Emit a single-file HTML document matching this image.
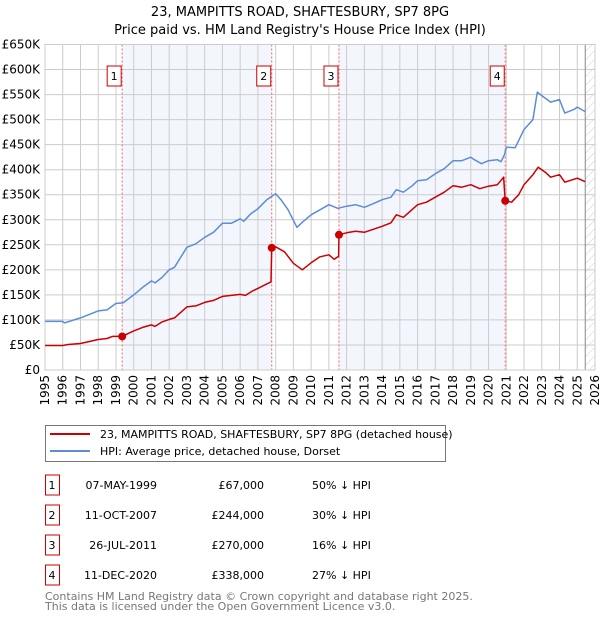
<!DOCTYPE html>
<html><head><meta charset="utf-8"><style>
body{margin:0;background:#fff;font-family:"Liberation Sans","DejaVu Sans",sans-serif;}
svg text{font-family:"DejaVu Sans","Liberation Sans",sans-serif;}
</style></head><body>
<svg id="c" width="600" height="620" xmlns="http://www.w3.org/2000/svg">
<defs><pattern id="hatch" width="6" height="6" patternUnits="userSpaceOnUse" patternTransform="rotate(45)"><line x1="0" y1="0" x2="0" y2="6" stroke="#ccc" stroke-width="1"/></pattern></defs>
<text x="300" y="16" text-anchor="middle" font-size="13">23, MAMPITTS ROAD, SHAFTESBURY, SP7 8PG</text>
<text x="300" y="34" text-anchor="middle" font-size="13">Price paid vs. HM Land Registry's House Price Index (HPI)</text>
<g id="plot"></g>
<g>
<rect x="45.5" y="425.5" width="400" height="36" fill="#fff" stroke="#777"/>
<line x1="50" y1="434" x2="90" y2="434" stroke="#cc0000" stroke-width="2"/>
<text x="100" y="438" font-size="11">23, MAMPITTS ROAD, SHAFTESBURY, SP7 8PG (detached house)</text>
<line x1="50" y1="451" x2="90" y2="451" stroke="#5b8ed6" stroke-width="2"/>
<text x="100" y="455" font-size="11">HPI: Average price, detached house, Dorset</text>
</g>
<g id="table" font-size="11"></g>
<text x="45" y="600" font-size="11" fill="#777">Contains HM Land Registry data © Crown copyright and database right 2025.</text>
<text x="45" y="610" font-size="11" fill="#777">This data is licensed under the Open Government Licence v3.0.</text>
</svg>
<script>
const hpiYears=[1995,1996,1996.1,1997,1998,1998.5,1999,1999.4,2000,2000.5,2001,2001.2,2001.6,2002,2002.3,2003,2003.5,2004,2004.5,2005,2005.5,2006,2006.2,2006.6,2007,2007.5,2008,2008.3,2008.7,2009.2,2009.5,2010,2010.5,2011,2011.5,2012,2012.5,2013,2013.5,2014,2014.5,2014.8,2015.2,2015.7,2016,2016.5,2017,2017.5,2018,2018.5,2019,2019.2,2019.6,2020,2020.5,2020.7,2020.9,2021,2021.5,2022,2022.5,2022.75,2023,2023.5,2024,2024.3,2024.8,2025,2025.45];
const hpiValues=[97,97,94,104,118,120,133,134,150,165,178,174,185,200,205,245,252,265,275,293,293,302,297,312,322,340,352,340,320,285,295,310,320,330,323,327,330,325,332,340,345,360,355,368,378,380,392,402,418,418,425,420,412,418,420,416,430,445,444,480,500,555,548,535,540,513,520,525,516];
const paidYears=[1995,1996,1996.3,1997,1997.5,1998,1998.5,1998.8,1999.35,2000,2000.5,2001,2001.2,2001.6,2002,2002.3,2003,2003.5,2004,2004.5,2005,2006,2006.3,2006.7,2007,2007.5,2007.74,2007.78,2008,2008.5,2009,2009.5,2010,2010.5,2011,2011.3,2011.55,2011.57,2012,2012.5,2013,2014,2014.5,2014.8,2015.2,2016,2016.5,2017,2017.5,2018,2018.5,2019,2019.5,2020,2020.5,2020.85,2020.94,2021.3,2021.7,2022,2022.5,2022.8,2023.2,2023.5,2024,2024.3,2025,2025.45];
const paidValues=[49,49,51,53,57,61,63,67,67,78,85,90,87,96,101,104,126,128,135,139,147,151,149,158,163,172,176,244,246,236,213,200,214,226,230,221,227,270,274,277,275,287,294,310,305,330,335,345,355,368,365,370,362,367,370,385,338,335,350,370,390,405,395,385,390,375,383,376];
const saleYears=[1999.35,2007.78,2011.57,2020.94];
const saleValues=[67,244,270,338];
const saleLabels=["1","2","3","4"];
const saleDates=["07-MAY-1999","11-OCT-2007","26-JUL-2011","11-DEC-2020"];
const salePrices=["£67,000","£244,000","£270,000","£338,000"];
const saleDiffs=["50% ↓ HPI","30% ↓ HPI","16% ↓ HPI","27% ↓ HPI"];
const yTicks=[0,50,100,150,200,250,300,350,400,450,500,550,600,650];
const yTickLabels=["£0","£50K","£100K","£150K","£200K","£250K","£300K","£350K","£400K","£450K","£500K","£550K","£600K","£650K"];
const xTicks=[1995,1996,1997,1998,1999,2000,2001,2002,2003,2004,2005,2006,2007,2008,2009,2010,2011,2012,2013,2014,2015,2016,2017,2018,2019,2020,2021,2022,2023,2024,2025,2026];

const L=45,R=595,T=44.5,B=370;
const xs=y=>L+(y-1995)/(2026-1995)*(R-L);
const ys=v=>B-v/650*(B-T);
const NS="http://www.w3.org/2000/svg";
const plot=document.getElementById('plot');
function mk(tag,attrs,parent){const e=document.createElementNS(NS,tag);for(const k in attrs)e.setAttribute(k,attrs[k]);(parent||plot).appendChild(e);return e;}
for(const [a,b] of [[0,1],[2,3]]){
 const r=mk('rect',{x:xs(saleYears[a]),y:T,width:xs(saleYears[b])-xs(saleYears[a]),height:B-T,fill:'#f3f6fd'});
 
 
}
yTicks.forEach((v,i)=>{
 const g=mk('line',{x1:L,x2:R,y1:ys(v),y2:ys(v),stroke:'#cccccc','stroke-width':1});
 
 
 const t=mk('text',{x:40,y:ys(v)+4,'text-anchor':'end','font-size':12});
 t.textContent=yTickLabels[i];
 
 
});
xTicks.forEach(y=>{
 const g=mk('line',{x1:xs(y),x2:xs(y),y1:T,y2:B,stroke:'#cccccc','stroke-width':1});
 
 
 const t=mk('text',{x:0,y:0,'text-anchor':'end','font-size':12,transform:`translate(${xs(y)+4},375) rotate(-90)`});
 t.textContent=y;
 
 
});
const h=mk('rect',{x:xs(2025.45),y:T,width:R-xs(2025.45),height:B-T,fill:'url(#hatch)'});


mk('line',{x1:xs(2025.45),x2:xs(2025.45),y1:T,y2:B,stroke:'#888','stroke-width':1});
saleYears.forEach((y,i)=>{
 const l=mk('line',{x1:xs(y),x2:xs(y),y1:T,y2:B,stroke:'#ee6666','stroke-width':1,'stroke-dasharray':'2,2'});
 
 
 const bx=mk('rect',{x:xs(y)-15,y:66,width:14,height:20,fill:'#fff',stroke:'#cc0000'});
 
 
 const t=mk('text',{x:xs(y)-8,y:80,'text-anchor':'middle','font-size':11});
 t.textContent=saleLabels[i];
 
 
});
mk('rect',{x:L,y:T,width:R-L,height:B-T,fill:'none',stroke:'#cccccc'});
function line(xa,va,col,name){
 const d=xa.map((x,i)=>(i?'L':'M')+xs(x).toFixed(1)+','+ys(va[i]).toFixed(1)).join('');
 const p=mk('path',{d:d,fill:'none',stroke:col,'stroke-width':1.5,'stroke-linejoin':'round'});
 
 
}
line(hpiYears,hpiValues,'#5b8ed6','hpi-line');
line(paidYears,paidValues,'#cc0000','price-paid-line');
saleYears.forEach((y,i)=>{
 const c=mk('circle',{cx:xs(y),cy:ys(saleValues[i]),r:4,fill:'#cc0000'});
 
 
});
const tb=document.getElementById('table');
saleLabels.forEach((s,i)=>{
 const y=485+i*30;
 const r=mk('rect',{x:45.5,y:y-10,width:14,height:20,fill:'#fff',stroke:'#cc0000'},tb);
 
 
 const vals=[[52,'middle',s],[157,'end',saleDates[i]],[264,'end',salePrices[i]],[312,'start',saleDiffs[i]]];
 vals.forEach(([x,a,tx])=>{
  const t=mk('text',{x:x,y:y+4,'text-anchor':a,'font-size':11},tb);
  t.textContent=tx;
  
  
 });
});
</script>
</body></html>
